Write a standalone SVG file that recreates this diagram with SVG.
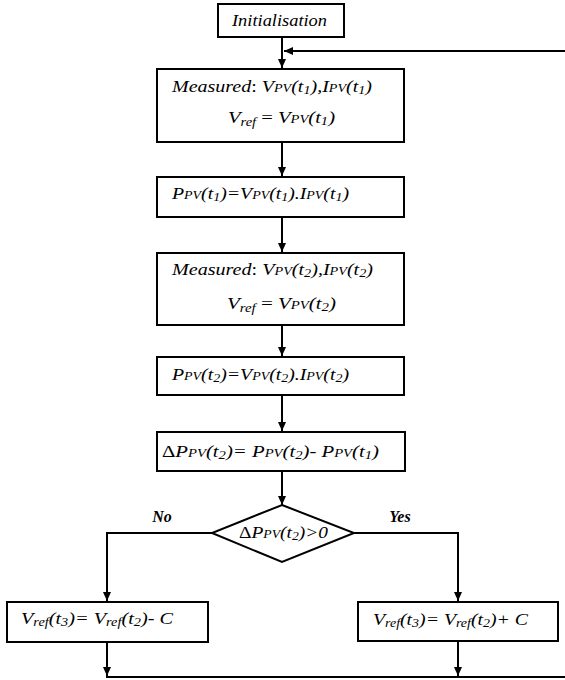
<svg xmlns="http://www.w3.org/2000/svg" width="565" height="680" viewBox="0 0 565 680">
<style>
.t { font-family: "Liberation Serif", "Times New Roman", serif; font-style: italic; font-size: 17px; fill: #000; }
.s { font-size: 12px; }
.n { font-style: normal; }
.lb { font-family: "Liberation Serif", "Times New Roman", serif; font-style: italic; font-weight: bold; font-size: 16px; fill: #000; }
.box { fill: #fff; stroke: #000; stroke-width: 2; }
.ln { stroke: #000; stroke-width: 2; fill: none; }
</style>
<defs>
<marker id="arr" markerUnits="userSpaceOnUse" markerWidth="10" markerHeight="10" refX="9" refY="5" orient="auto">
<path d="M0,1 L9,5 L0,9 z" fill="#000"/>
</marker>
</defs>
<rect width="565" height="680" fill="#fff"/>

<g id="connectors">
<path class="ln" d="M282,37 V68" marker-end="url(#arr)"/>
<path class="ln" d="M565,51 H284" marker-end="url(#arr)"/>
<path class="ln" d="M282,142 V176" marker-end="url(#arr)"/>
<path class="ln" d="M282,217 V252" marker-end="url(#arr)"/>
<path class="ln" d="M282,325 V356" marker-end="url(#arr)"/>
<path class="ln" d="M282,395 V431" marker-end="url(#arr)"/>
<path class="ln" d="M282,471 V505" marker-end="url(#arr)"/>
<path class="ln" d="M212,533 H107 V601" marker-end="url(#arr)"/>
<path class="ln" d="M354,533 H458 V601" marker-end="url(#arr)"/>
<path class="ln" d="M107,642 V676" marker-end="url(#arr)"/>
<path class="ln" d="M458,641 V676" marker-end="url(#arr)"/>
<path class="ln" d="M106,677 H565"/>
<text class="lb" x="162" y="522" text-anchor="middle">No</text>
<text class="lb" x="400" y="522" text-anchor="middle">Yes</text>
</g>

<g id="init">
<rect class="box" x="218" y="4" width="126" height="33"/>
<text class="t" x="232" y="26" textLength="95" lengthAdjust="spacingAndGlyphs">Initialisation</text>
</g>

<g id="measure1">
<rect class="box" x="157" y="69" width="247" height="73"/>
<text class="t" x="172" y="92" textLength="200" lengthAdjust="spacingAndGlyphs">Measured<tspan class="n">: </tspan>V<tspan class="s">PV</tspan>(t<tspan class="s" dy="2">1</tspan><tspan dy="-2">),I</tspan><tspan class="s">PV</tspan>(t<tspan class="s" dy="2">1</tspan><tspan dy="-2">)</tspan></text>
<text class="t" x="228" y="123" textLength="107" lengthAdjust="spacingAndGlyphs">V<tspan class="s" dy="3">ref</tspan><tspan class="n" dy="-3"> = </tspan>V<tspan class="s">PV</tspan>(t<tspan class="s" dy="2">1</tspan><tspan dy="-2">)</tspan></text>
</g>

<g id="power1">
<rect class="box" x="157" y="177" width="247" height="40"/>
<text class="t" x="172" y="199" textLength="177" lengthAdjust="spacingAndGlyphs">P<tspan class="s">PV</tspan>(t<tspan class="s" dy="2">1</tspan><tspan dy="-2">)=V</tspan><tspan class="s">PV</tspan>(t<tspan class="s" dy="2">1</tspan><tspan dy="-2">).I</tspan><tspan class="s">PV</tspan>(t<tspan class="s" dy="2">1</tspan><tspan dy="-2">)</tspan></text>
</g>

<g id="measure2">
<rect class="box" x="157" y="253" width="247" height="72"/>
<text class="t" x="172" y="275" textLength="201" lengthAdjust="spacingAndGlyphs">Measured<tspan class="n">: </tspan>V<tspan class="s">PV</tspan>(t<tspan class="s" dy="2">2</tspan><tspan dy="-2">),I</tspan><tspan class="s">PV</tspan>(t<tspan class="s" dy="2">2</tspan><tspan dy="-2">)</tspan></text>
<text class="t" x="227" y="309" textLength="109" lengthAdjust="spacingAndGlyphs">V<tspan class="s" dy="3">ref</tspan><tspan class="n" dy="-3"> = </tspan>V<tspan class="s">PV</tspan>(t<tspan class="s" dy="2">2</tspan><tspan dy="-2">)</tspan></text>
</g>

<g id="power2">
<rect class="box" x="157" y="357" width="247" height="38"/>
<text class="t" x="172" y="380" textLength="177" lengthAdjust="spacingAndGlyphs">P<tspan class="s">PV</tspan>(t<tspan class="s" dy="2">2</tspan><tspan dy="-2">)=V</tspan><tspan class="s">PV</tspan>(t<tspan class="s" dy="2">2</tspan><tspan dy="-2">).I</tspan><tspan class="s">PV</tspan>(t<tspan class="s" dy="2">2</tspan><tspan dy="-2">)</tspan></text>
</g>

<g id="delta">
<rect class="box" x="157" y="432" width="248" height="39"/>
<text class="t" x="162" y="457" textLength="217" lengthAdjust="spacingAndGlyphs"><tspan class="n">Δ</tspan>P<tspan class="s">PV</tspan>(t<tspan class="s" dy="2">2</tspan><tspan dy="-2">)= P</tspan><tspan class="s">PV</tspan>(t<tspan class="s" dy="2">2</tspan><tspan dy="-2">)- P</tspan><tspan class="s">PV</tspan>(t<tspan class="s" dy="2">1</tspan><tspan dy="-2">)</tspan></text>
</g>

<g id="decision">
<polygon class="box" points="282,505 354,533 282,562 212,533"/>
<text class="t" x="239" y="538" textLength="89" lengthAdjust="spacingAndGlyphs"><tspan class="n">Δ</tspan>P<tspan class="s">PV</tspan>(t<tspan class="s" dy="2">2</tspan><tspan dy="-2">)&gt;0</tspan></text>
</g>

<g id="decrease">
<rect class="box" x="7" y="602" width="201" height="40"/>
<text class="t" x="21" y="624" textLength="152" lengthAdjust="spacingAndGlyphs">V<tspan class="s" dy="2">ref</tspan><tspan dy="-2">(t</tspan><tspan class="s" dy="2">3</tspan><tspan dy="-2">)= V</tspan><tspan class="s" dy="2">ref</tspan><tspan dy="-2">(t</tspan><tspan class="s" dy="2">2</tspan><tspan dy="-2">)- C</tspan></text>
</g>

<g id="increase">
<rect class="box" x="358" y="602" width="200" height="39"/>
<text class="t" x="373" y="625" textLength="155" lengthAdjust="spacingAndGlyphs">V<tspan class="s" dy="2">ref</tspan><tspan dy="-2">(t</tspan><tspan class="s" dy="2">3</tspan><tspan dy="-2">)= V</tspan><tspan class="s" dy="2">ref</tspan><tspan dy="-2">(t</tspan><tspan class="s" dy="2">2</tspan><tspan dy="-2">)+ C</tspan></text>
</g>
</svg>
